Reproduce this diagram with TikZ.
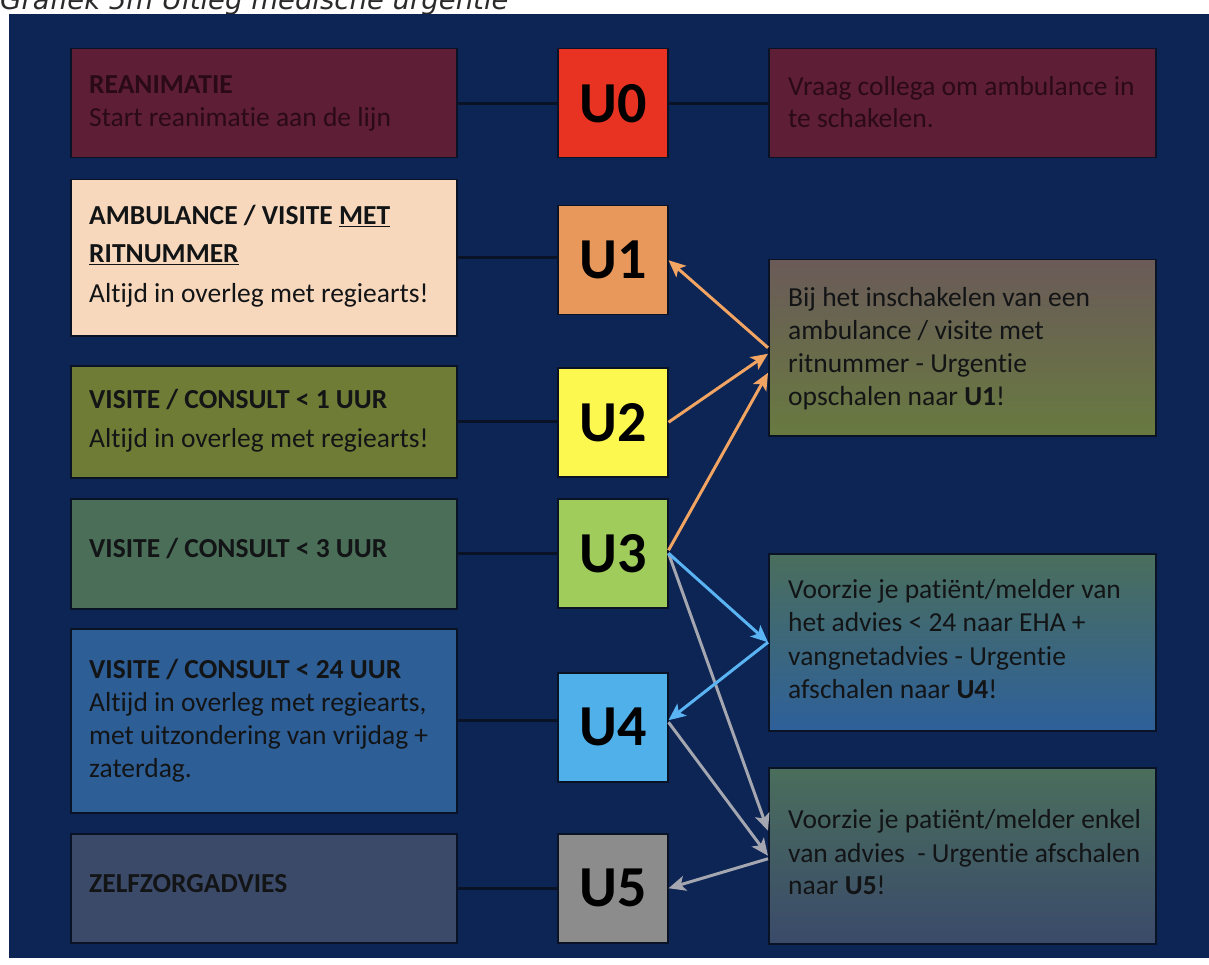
\documentclass[tikz,border=0pt]{standalone}
\usepackage{fontspec}
\setmainfont{Carlito}[Ligatures=CommonOff]
\newfontfamily\titlefont{DejaVu Sans}
\usetikzlibrary{arrows.meta,calc}
\definecolor{navy}{HTML}{0C2554}
\definecolor{boxline}{HTML}{0A1226}
\definecolor{cRea}{HTML}{5E1E36}
\definecolor{cAmb}{HTML}{F8D8BC}
\definecolor{cOne}{HTML}{6E7C36}
\definecolor{cThree}{HTML}{4A6E58}
\definecolor{cTwentyfour}{HTML}{2E5E96}
\definecolor{cZelf}{HTML}{3C4A6A}
\definecolor{gTopA}{HTML}{6A5A58}
\definecolor{gBotA}{HTML}{687A40}
\definecolor{gTopB}{HTML}{4A6E5C}
\definecolor{gBotB}{HTML}{2E609A}
\definecolor{gBotC}{HTML}{3A4A6A}
\definecolor{sqZero}{HTML}{E83222}
\definecolor{sqOne}{HTML}{E8985A}
\definecolor{sqTwo}{HTML}{FCF850}
\definecolor{sqThree}{HTML}{A0CC5C}
\definecolor{sqFour}{HTML}{50B0EA}
\definecolor{sqFive}{HTML}{8C8C8C}
\definecolor{arrOrange}{HTML}{F2A462}
\definecolor{arrBlue}{HTML}{5AB4F4}
\definecolor{arrGray}{HTML}{A4A6B0}
\definecolor{txtRea}{HTML}{2A0A16}
\definecolor{txtDark}{HTML}{121416}
\definecolor{titlegray}{HTML}{2A2A2A}
\tikzset{
  box/.style={draw=boxline, line width=1.5pt, anchor=north west, inner sep=0pt},
  sq/.style={draw=boxline, line width=1.5pt, anchor=north west, inner sep=0pt,
    minimum width=110pt, minimum height=109pt, font=\bfseries\fontsize{58}{62}\selectfont, text=black},
  txt/.style={anchor=base west, inner sep=0pt, font=\fontsize{27.5}{31}\selectfont, text=txtDark},
  txtb/.style={anchor=base west, inner sep=0pt, font=\bfseries\fontsize{27.5}{31}\selectfont, text=txtDark},
  conn/.style={draw=boxline, line width=3pt},
  arr/.style={line width=3pt, -{Stealth[length=17pt,width=15pt,inset=4pt]}},
}
\begin{document}
\begin{tikzpicture}[x=1pt,y=-1pt]
\useasboundingbox (0,0) rectangle (1209,965);
\fill[white] (0,0) rectangle (1209,965);
\node[anchor=base west, inner sep=0pt, font=\titlefont\itshape\fontsize{27.5}{31}\selectfont, text=titlegray] (title) at (0,10) {Grafiek 5m Uitleg medische urgentie};
\fill[navy] (9,14) rectangle (1209,958);

% left boxes
\node[box, fill=cRea, minimum width=386pt, minimum height=109pt] (L0) at (70,48) {};
\node[box, fill=cAmb, minimum width=386pt, minimum height=156pt] (L1) at (70,179) {};
\node[box, fill=cOne, minimum width=386pt, minimum height=112pt] (L2) at (70,365) {};
\node[box, fill=cThree, minimum width=386pt, minimum height=110pt] (L3) at (70,498) {};
\node[box, fill=cTwentyfour, minimum width=386pt, minimum height=184pt] (L4) at (70,628) {};
\node[box, fill=cZelf, minimum width=386pt, minimum height=109pt] (L5) at (70,833) {};

% squares
\node[sq, fill=sqZero] (U0) at (557,48) {U0};
\node[sq, fill=sqOne] (U1) at (557,205) {U1};
\node[sq, fill=sqTwo] (U2) at (557,367) {U2};
\node[sq, fill=sqThree] (U3) at (557,498) {U3};
\node[sq, fill=sqFour] (U4) at (557,672) {U4};
\node[sq, fill=sqFive] (U5) at (557,833) {U5};

% right boxes
\node[box, fill=cRea, minimum width=387pt, minimum height=109pt] (R0) at (768,48) {};
\node[box, top color=gTopA, bottom color=gBotA, minimum width=387pt, minimum height=176pt] (R1) at (768,259) {};
\node[box, top color=gTopB, bottom color=gBotB, minimum width=387pt, minimum height=177pt] (R2) at (768,553) {};
\node[box, top color=gTopB, bottom color=gBotC, minimum width=387pt, minimum height=176pt] (R3) at (768,767) {};

% connectors between boxes
\draw[conn] (L0.east) -- (U0.west);
\draw[conn] (U0.east) -- (R0.west);
\draw[conn] (L1.east) -- (L1.east -| U1.west);
\draw[conn] (L2.east) -- (L2.east -| U2.west);
\draw[conn] (L3.east) -- (L3.east -| U3.west);
\draw[conn] (L4.east) -- (L4.east -| U4.west);
\draw[conn] (L5.east) -- (L5.east -| U5.west);

% arrows
\draw[arr, draw=arrOrange, fill=arrOrange] (R1.west) -- (U1.east);
\draw[arr, draw=arrOrange, fill=arrOrange] (U2.east) -- ($(R1.west)+(0,6)$);
\draw[arr, draw=arrOrange, fill=arrOrange] ($(U3.east)+(0,-3)$) -- ($(R1.west)+(0,25)$);
\draw[arr, draw=arrGray, fill=arrGray] (U3.east) -- ($(R3.west)+(0,-25)$);
\draw[arr, draw=arrGray, fill=arrGray] ($(U4.east)+(0,-5)$) -- (R3.west);
\draw[arr, draw=arrGray, fill=arrGray] ($(R3.west)+(0,3)$) -- (U5.east);
\draw[arr, draw=arrBlue, fill=arrBlue] (U3.east) -- (R2.west);
\draw[arr, draw=arrBlue, fill=arrBlue] (R2.west) -- ($(U4.east)+(0,-7)$);

% left texts
\node[txtb, text=txtRea] (t0a) at (89,94) {REANIMATIE};
\node[txt, text=txtRea] (t0b) at (89,127) {Start reanimatie aan de lijn};
\node[txtb] (t1a) at (89,225) {AMBULANCE / VISITE \underline{MET}};
\node[txtb] (t1b) at (89,263) {\underline{RITNUMMER}};
\node[txt] (t1c) at (89,303) {Altijd in overleg met regiearts!};
\node[txtb] (t2a) at (89,408) {VISITE / CONSULT < 1 UUR};
\node[txt] (t2b) at (89,447) {Altijd in overleg met regiearts!};
\node[txtb] (t3a) at (89,557) {VISITE / CONSULT < 3 UUR};
\node[txtb] (t4a) at (89,678) {VISITE / CONSULT < 24 UUR};
\node[txt] (t4b) at (89,711) {Altijd in overleg met regiearts,};
\node[txt] (t4c) at (89,744) {met uitzondering van vrijdag +};
\node[txt] (t4d) at (89,777) {zaterdag.};
\node[txtb] (t5a) at (89,892) {ZELFZORGADVIES};

% right texts
\node[txt, text=txtRea] (r0a) at (788,96) {Vraag collega om ambulance in};
\node[txt, text=txtRea] (r0b) at (788,128) {te schakelen.};
\node[txt] (r1a) at (788,306) {Bij het inschakelen van een};
\node[txt] (r1b) at (788,339) {ambulance / visite met};
\node[txt] (r1c) at (788,372) {ritnummer - Urgentie};
\node[txt] (r1d) at (788,405) {opschalen naar \textbf{U1}!};
\node[txt] (r2a) at (788,598) {Voorzie je patiënt/melder van};
\node[txt] (r2b) at (788,631) {het advies < 24 naar EHA +};
\node[txt] (r2c) at (788,665) {vangnetadvies - Urgentie};
\node[txt] (r2d) at (788,698) {afschalen naar \textbf{U4}!};
\node[txt] (r3a) at (788,828) {Voorzie je patiënt/melder enkel};
\node[txt] (r3b) at (788,862) {van advies \ - Urgentie afschalen};
\node[txt] (r3c) at (788,894) {naar \textbf{U5}!};
\end{tikzpicture}
\end{document}
